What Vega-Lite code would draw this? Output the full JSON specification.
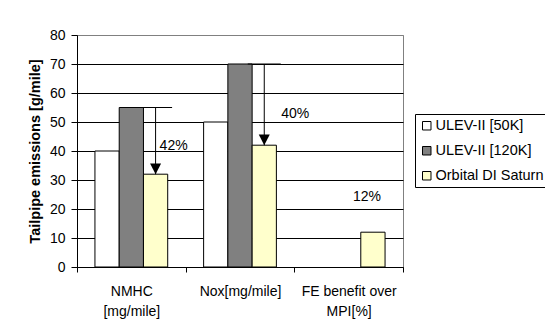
{
  "$schema": "https://vega.github.io/schema/vega-lite/v6.json",
  "width": 326,
  "height": 232,
  "autosize": {"type": "none"},
  "padding": {"left": 77, "top": 35, "right": 142, "bottom": 65},
  "background": "white",
  "config": {
    "font": "Liberation Sans",
    "view": {"stroke": "#808080", "strokeWidth": 1},
    "axis": {
      "labelFont": "Liberation Sans",
      "labelFontSize": 14,
      "labelColor": "black",
      "titleFont": "Liberation Sans",
      "titleColor": "black",
      "domainColor": "black",
      "tickColor": "black"
    },
    "axisY": {
      "grid": true,
      "gridColor": "black",
      "tickSize": 6,
      "labelPadding": 6,
      "labelOverlap": false,
      "titleFontSize": 14.5,
      "titleFontWeight": "bold",
      "titlePadding": 7
    }
  },
  "datasets": {
    "emissions": [
      {"category": "NMHC [mg/mile]", "series": "ULEV-II [50K]", "value": 40},
      {"category": "NMHC [mg/mile]", "series": "ULEV-II [120K]", "value": 55},
      {"category": "NMHC [mg/mile]", "series": "Orbital DI Saturn", "value": 32},
      {"category": "Nox[mg/mile]", "series": "ULEV-II [50K]", "value": 50},
      {"category": "Nox[mg/mile]", "series": "ULEV-II [120K]", "value": 70},
      {"category": "Nox[mg/mile]", "series": "Orbital DI Saturn", "value": 42},
      {"category": "FE benefit over MPI[%]", "series": "Orbital DI Saturn", "value": 12}
    ],
    "reductions": [
      {"category": "NMHC [mg/mile]", "series": "Orbital DI Saturn", "from": 55, "to": 32},
      {"category": "Nox[mg/mile]", "series": "Orbital DI Saturn", "from": 70, "to": 42}
    ]
  },
  "layer": [
    {
      "data": {"name": "emissions"},
      "mark": {"type": "bar", "stroke": "black", "strokeWidth": 1},
      "encoding": {
        "x": {
          "field": "category",
          "type": "nominal",
          "sort": ["NMHC [mg/mile]", "Nox[mg/mile]", "FE benefit over MPI[%]"],
          "scale": {"paddingInner": 0, "paddingOuter": 0},
          "axis": {
            "title": null,
            "labelAngle": 0,
            "tickBand": "extent",
            "tickSize": 5,
            "labelPadding": 12,
            "labelLineHeight": 20,
            "grid": false,
            "labelExpr": "datum.value == 'NMHC [mg/mile]' ? ['NMHC', '[mg/mile]'] : datum.value == 'FE benefit over MPI[%]' ? ['FE benefit over', 'MPI[%]'] : datum.label"
          }
        },
        "xOffset": {
          "field": "series",
          "type": "nominal",
          "sort": ["ULEV-II [50K]", "ULEV-II [120K]", "Orbital DI Saturn"],
          "scale": {"paddingInner": 0, "paddingOuter": 0.74}
        },
        "y": {
          "field": "value",
          "type": "quantitative",
          "scale": {"domain": [0, 80], "nice": false},
          "axis": {
            "title": "Tailpipe emissions [g/mile]",
            "values": [0, 10, 20, 30, 40, 50, 60, 70, 80],
            "gridColor": {"condition": {"test": "datum.value === 80", "value": "#808080"}, "value": "black"}
          }
        },
        "color": {
          "field": "series",
          "type": "nominal",
          "scale": {
            "domain": ["ULEV-II [50K]", "ULEV-II [120K]", "Orbital DI Saturn"],
            "range": ["white", "#808080", "#FFFFCC"]
          },
          "legend": {
            "title": null,
            "orient": "none",
            "legendX": 338,
            "legendY": 79,
            "strokeColor": "black",
            "fillColor": "white",
            "padding": 4.5,
            "labelFont": "Liberation Sans",
            "labelFontSize": 14.5,
            "labelColor": "black",
            "labelOffset": 1.5,
            "symbolType": "square",
            "symbolSize": 72,
            "symbolStrokeColor": "black",
            "symbolStrokeWidth": 1,
            "rowPadding": 10
          }
        }
      }
    },
    {
      "data": {"name": "reductions"},
      "mark": {"type": "rule", "color": "black", "strokeWidth": 1},
      "encoding": {
        "x": {"field": "category", "type": "nominal", "sort": ["NMHC [mg/mile]", "Nox[mg/mile]", "FE benefit over MPI[%]"]},
        "xOffset": {"field": "series", "type": "nominal", "sort": ["ULEV-II [50K]", "ULEV-II [120K]", "Orbital DI Saturn"]},
        "y": {"field": "from", "type": "quantitative", "axis": {"title": "Tailpipe emissions [g/mile]", "values": [0, 10, 20, 30, 40, 50, 60, 70, 80], "gridColor": {"condition": {"test": "datum.value === 80", "value": "#808080"}, "value": "black"}}},
        "y2": {"field": "to"}
      }
    },
    {
      "data": {"name": "reductions"},
      "mark": {"type": "tick", "orient": "horizontal", "size": 33, "thickness": 1, "color": "black", "opacity": 1},
      "encoding": {
        "x": {"field": "category", "type": "nominal", "sort": ["NMHC [mg/mile]", "Nox[mg/mile]", "FE benefit over MPI[%]"]},
        "xOffset": {"field": "series", "type": "nominal", "sort": ["ULEV-II [50K]", "ULEV-II [120K]", "Orbital DI Saturn"]},
        "y": {"field": "from", "type": "quantitative", "axis": {"title": "Tailpipe emissions [g/mile]", "values": [0, 10, 20, 30, 40, 50, 60, 70, 80], "gridColor": {"condition": {"test": "datum.value === 80", "value": "#808080"}, "value": "black"}}}
      }
    },
    {
      "data": {"name": "reductions"},
      "mark": {"type": "point", "shape": "M-1,-1.95L1,-1.95L0,0Z", "size": 121, "filled": true, "color": "black", "opacity": 1},
      "encoding": {
        "x": {"field": "category", "type": "nominal", "sort": ["NMHC [mg/mile]", "Nox[mg/mile]", "FE benefit over MPI[%]"]},
        "xOffset": {"field": "series", "type": "nominal", "sort": ["ULEV-II [50K]", "ULEV-II [120K]", "Orbital DI Saturn"]},
        "y": {"field": "to", "type": "quantitative", "axis": {"title": "Tailpipe emissions [g/mile]", "values": [0, 10, 20, 30, 40, 50, 60, 70, 80], "gridColor": {"condition": {"test": "datum.value === 80", "value": "#808080"}, "value": "black"}}}
      }
    },
    {
      "data": {"values": [{"category": "NMHC [mg/mile]", "series": "Orbital DI Saturn", "at": 41.6, "label": "42%"}]},
      "mark": {"type": "text", "align": "left", "baseline": "middle", "dx": 4, "fontSize": 14, "font": "Liberation Sans", "color": "black"},
      "encoding": {
        "x": {"field": "category", "type": "nominal", "sort": ["NMHC [mg/mile]", "Nox[mg/mile]", "FE benefit over MPI[%]"]},
        "xOffset": {"field": "series", "type": "nominal", "sort": ["ULEV-II [50K]", "ULEV-II [120K]", "Orbital DI Saturn"]},
        "y": {"field": "at", "type": "quantitative", "axis": {"title": "Tailpipe emissions [g/mile]", "values": [0, 10, 20, 30, 40, 50, 60, 70, 80], "gridColor": {"condition": {"test": "datum.value === 80", "value": "#808080"}, "value": "black"}}},
        "text": {"field": "label"}
      }
    },
    {
      "data": {"values": [{"category": "Nox[mg/mile]", "series": "Orbital DI Saturn", "at": 52.9, "label": "40%"}]},
      "mark": {"type": "text", "align": "left", "baseline": "middle", "dx": 17, "fontSize": 14, "font": "Liberation Sans", "color": "black"},
      "encoding": {
        "x": {"field": "category", "type": "nominal", "sort": ["NMHC [mg/mile]", "Nox[mg/mile]", "FE benefit over MPI[%]"]},
        "xOffset": {"field": "series", "type": "nominal", "sort": ["ULEV-II [50K]", "ULEV-II [120K]", "Orbital DI Saturn"]},
        "y": {"field": "at", "type": "quantitative", "axis": {"title": "Tailpipe emissions [g/mile]", "values": [0, 10, 20, 30, 40, 50, 60, 70, 80], "gridColor": {"condition": {"test": "datum.value === 80", "value": "#808080"}, "value": "black"}}},
        "text": {"field": "label"}
      }
    },
    {
      "data": {"values": [{"category": "FE benefit over MPI[%]", "series": "Orbital DI Saturn", "at": 24.2, "label": "12%"}]},
      "mark": {"type": "text", "align": "center", "baseline": "middle", "dx": -6, "fontSize": 14, "font": "Liberation Sans", "color": "black"},
      "encoding": {
        "x": {"field": "category", "type": "nominal", "sort": ["NMHC [mg/mile]", "Nox[mg/mile]", "FE benefit over MPI[%]"]},
        "xOffset": {"field": "series", "type": "nominal", "sort": ["ULEV-II [50K]", "ULEV-II [120K]", "Orbital DI Saturn"]},
        "y": {"field": "at", "type": "quantitative", "axis": {"title": "Tailpipe emissions [g/mile]", "values": [0, 10, 20, 30, 40, 50, 60, 70, 80], "gridColor": {"condition": {"test": "datum.value === 80", "value": "#808080"}, "value": "black"}}},
        "text": {"field": "label"}
      }
    }
  ]
}
